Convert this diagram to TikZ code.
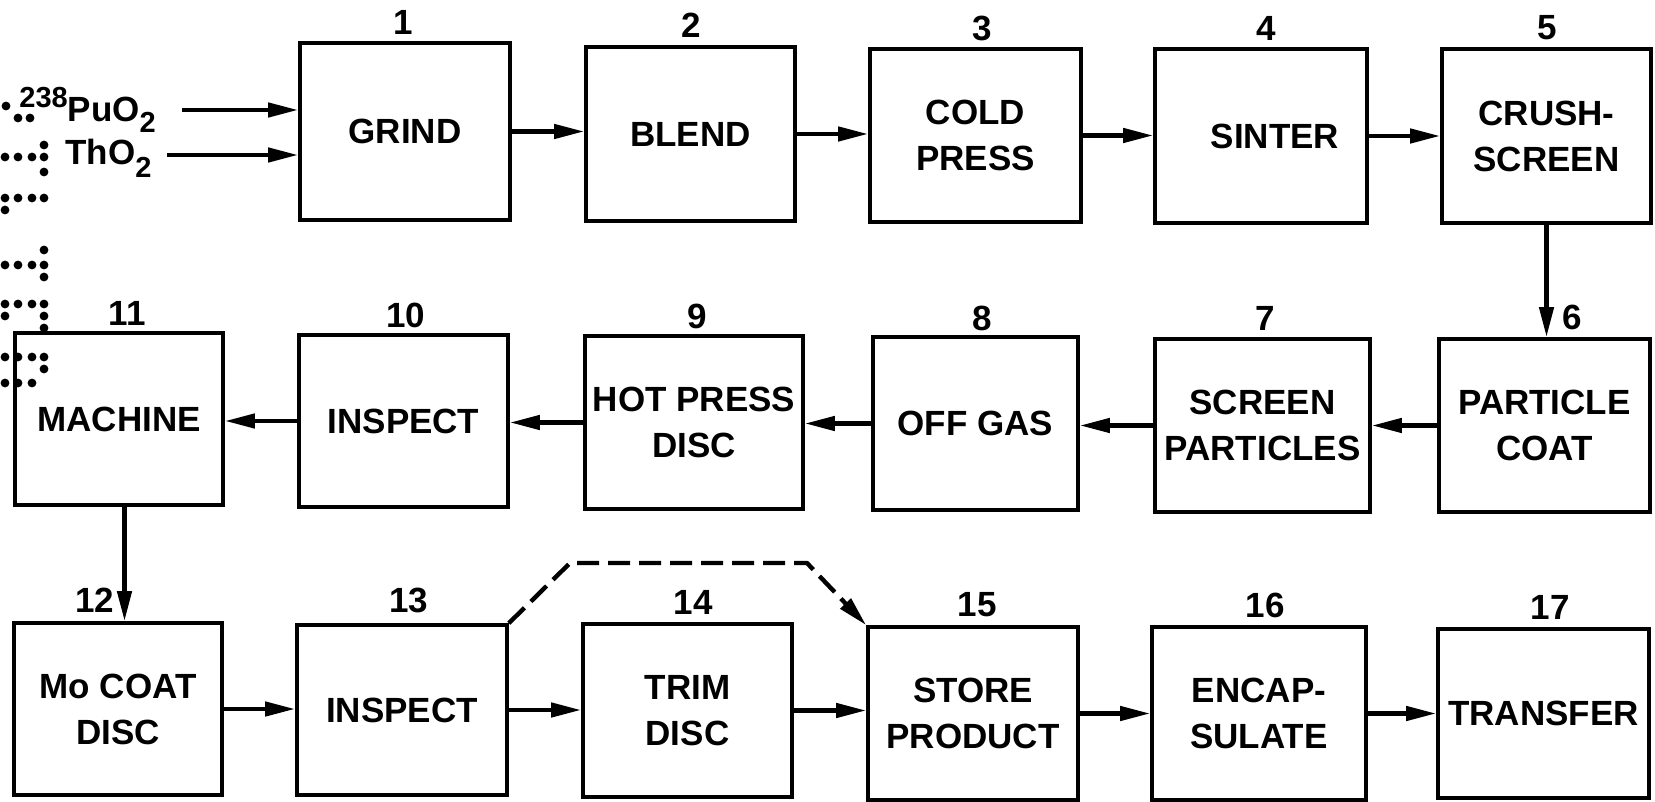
\documentclass[tikz,border=0pt]{standalone}
\usepackage{fontspec}
\setmainfont{Liberation Sans}
\usetikzlibrary{arrows.meta}
\newcommand\boxfont{\fontsize{17.5}{23}\selectfont\bfseries}
\newcommand\smallfig{\fontsize{14.5}{14.5}\selectfont\bfseries}
\begin{document}
\begin{tikzpicture}[x=0.5pt,y=-0.5pt,
  box/.style={draw, line width=1.8pt, inner sep=0pt, align=center, font=\boxfont},
  num/.style={font=\boxfont, inner sep=0pt},
  arr/.style={line width=2.2pt, line join=round, -{Triangle[length=15pt,width=7pt]}},
  dashedarr/.style={arr, dash pattern=on 11pt off 4.5pt}]
\useasboundingbox (0,0) rectangle (1655,802);

% row 1
\node[box, minimum width=105pt, minimum height=88.5pt] (b1) at (405,131.5) {GRIND};
\node[box, minimum width=104.5pt, minimum height=87pt] (b2) at (690.5,134) {BLEND};
\node[box, minimum width=105.5pt, minimum height=86.5pt] (b3) at (975.5,135.5) {COLD\\PRESS};
\node[box, minimum width=106pt, minimum height=87pt] (b4) at (1261,136) {\hspace*{14pt}SINTER};
\node[box, minimum width=104.5pt, minimum height=87pt] (b5) at (1546.5,136) {CRUSH-\\SCREEN};
% row 2
\node[box, minimum width=104pt, minimum height=86pt] (b11) at (119,419) {MACHINE};
\node[box, minimum width=104.5pt, minimum height=86pt] (b10) at (403.5,421) {INSPECT};
\node[box, minimum width=109pt, minimum height=86.5pt] (b9) at (694,422.5) {HOT PRESS\\DISC};
\node[box, minimum width=102.5pt, minimum height=86.5pt] (b8) at (975.5,423.5) {OFF GAS};
\node[box, minimum width=107.5pt, minimum height=86.5pt] (b7) at (1262.5,425.5) {SCREEN\\PARTICLES};
\node[box, minimum width=105.5pt, minimum height=86.5pt] (b6) at (1544.5,425.5) {PARTICLE\\COAT};
% row 3
\node[box, minimum width=104pt, minimum height=86pt] (b12) at (118,709) {Mo COAT\\DISC};
\node[box, minimum width=105pt, minimum height=85pt] (b13) at (402,710) {INSPECT};
\node[box, minimum width=104.5pt, minimum height=86.5pt] (b14) at (687.5,710.5) {TRIM\\DISC};
\node[box, minimum width=105pt, minimum height=86.5pt] (b15) at (973,713.5) {STORE\\PRODUCT};
\node[box, minimum width=107pt, minimum height=86.5pt] (b16) at (1259,713.5) {ENCAP-\\SULATE};
\node[box, minimum width=105.5pt, minimum height=84.5pt] (b17) at (1543.5,713.5) {TRANSFER};

% numbers
\node[num] (n1) at (403,22) {1};
\node[num] (n2) at (691,25) {2};
\node[num] (n3) at (982,28) {3};
\node[num] (n4) at (1266,28) {4};
\node[num] (n5) at (1547,28) {5};
\node[num] (n11) at (127,313) {11};
\node[num] (n10) at (406,315) {10};
\node[num] (n9) at (697,316) {9};
\node[num] (n8) at (982,318) {8};
\node[num] (n7) at (1265,318) {7};
\node[num] (n6) at (1572,317) {6};
\node[num] (n12) at (95,600) {12};
\node[num] (n13) at (409,600) {13};
\node[num] (n14) at (693,602) {14};
\node[num] (n15) at (977,605) {15};
\node[num] (n16) at (1265,605) {16};
\node[num] (n17) at (1550,607) {17};

% inputs
\node[num, anchor=base west] (pu) at (19,122) {\raisebox{0.4em}{\smallfig 238}PuO\raisebox{-0.3em}{\smallfig 2}};
\node[num, anchor=base west] (th) at (65,165) {ThO\raisebox{-0.35em}{\smallfig 2}};
\coordinate (puA) at (182,110);
\coordinate (thA) at (167,155);
\draw[arr] (puA) -- (puA -| b1.west);
\draw[arr] (thA) -- (thA -| b1.west);

% connectors
\draw[arr] (b1.east) -- (b1.east -| b2.west);
\draw[arr] (b2.east) -- (b2.east -| b3.west);
\draw[arr] (b3.east) -- (b3.east -| b4.west);
\draw[arr] (b4.east) -- (b4.east -| b5.west);
\draw[arr] (b5.south) -- (b5.south |- b6.north);
\draw[arr] (b6.west) -- (b6.west -| b7.east);
\draw[arr] (b7.west) -- (b7.west -| b8.east);
\draw[arr] (b8.west) -- (b8.west -| b9.east);
\draw[arr] (b9.west) -- (b9.west -| b10.east);
\draw[arr] (b10.west) -- (b10.west -| b11.east);
\coordinate (m11) at (124.5,505);
\draw[arr] (m11 |- b11.south) -- (m11 |- b12.north);
\draw[arr] (b12.east) -- (b12.east -| b13.west);
\draw[arr] (b13.east) -- (b13.east -| b14.west);
\draw[arr] (b14.east) -- (b14.east -| b15.west);
\draw[arr] (b15.east) -- (b15.east -| b16.west);
\draw[arr] (b16.east) -- (b16.east -| b17.west);
\coordinate (d1) at (570,563);
\coordinate (d2) at (807,563);
\draw[dashedarr] (b13.north east) -- (d1) -- (d2) -- (b15.north west);

% dots at the left edge
\foreach \x/\y in {6/106,18/118,30/118,
  5/157,18/157,32/157,44/145,44/157,44/172,
  5/198,18/198,32/198,44/198,5/210,
  5/265,18/265,32/265,44/250,44/265,44/277,
  5/304,18/304,32/304,44/304,5/316,44/316,44/328,
  5/357,18/357,32/357,44/357,44/369,5/383,18/383,32/383}
  \fill (\x,\y) circle[radius=2.2pt];
\end{tikzpicture}
\end{document}
